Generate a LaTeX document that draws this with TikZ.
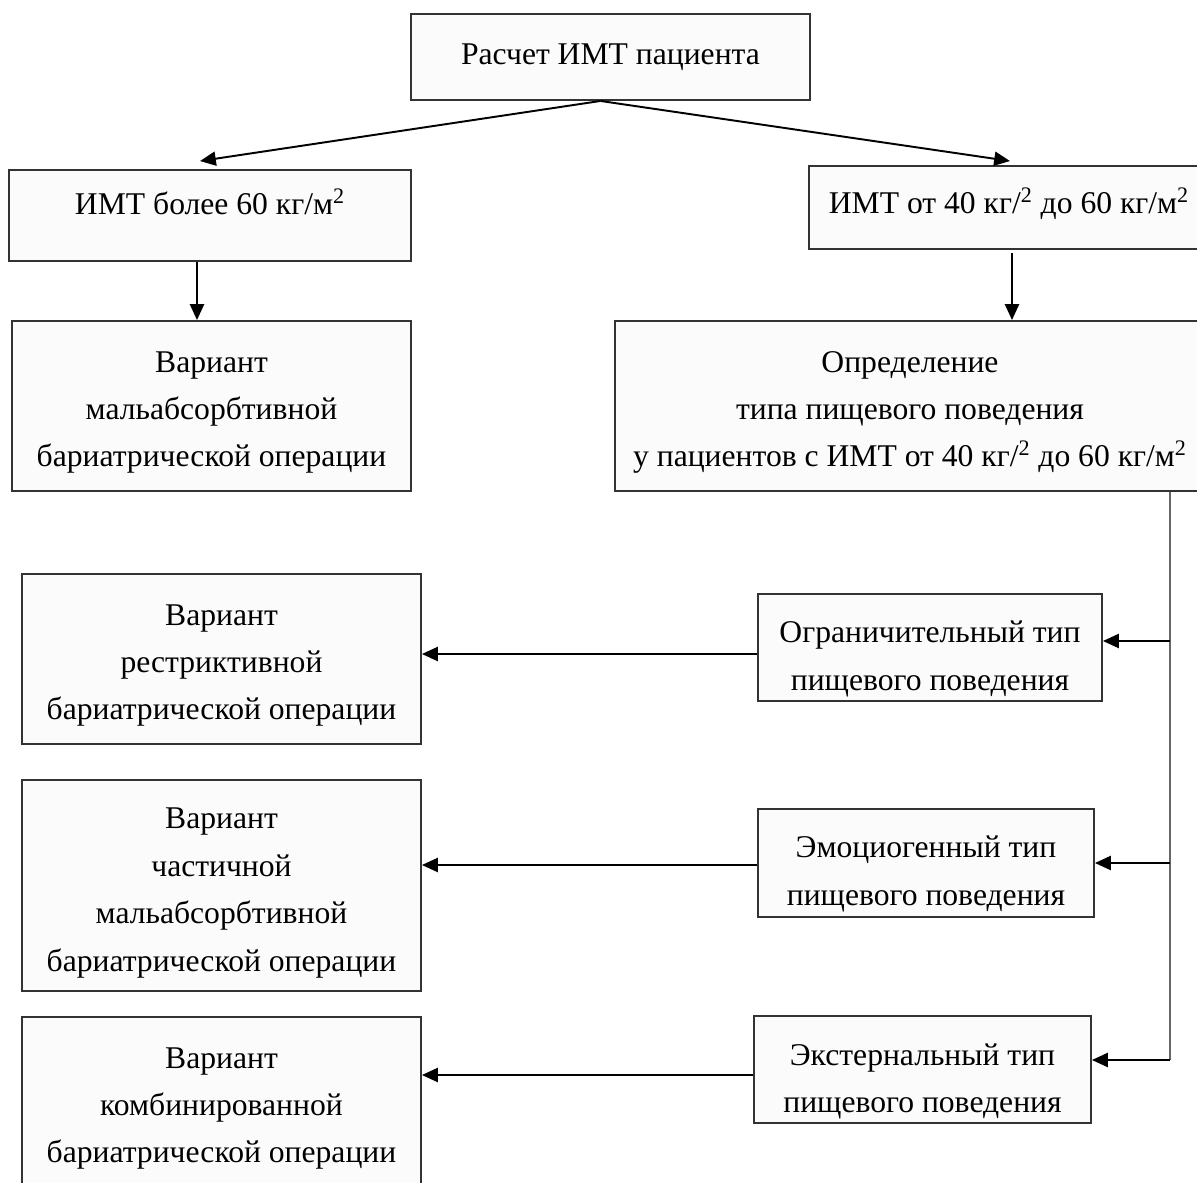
\documentclass[tikz,border=0pt]{standalone}
\usepackage{fontspec}
\setmainfont{Liberation Serif}
\usepackage{tikz}
\usetikzlibrary{positioning,arrows.meta,calc}
% box text, lowered a little inside its box
\newcommand{\boxtxt}[2][0cm]{\raisebox{-#1}[\height][\depth]{\begin{tabular}{@{}c@{}}#2\end{tabular}}}

\begin{document}
\begin{tikzpicture}[x=0.02cm,y=-0.02cm,
  box/.style={draw=black!80,line width=1.1pt,fill=black!1.5,inner sep=0pt,
    font=\fontsize{18}{27}\selectfont},
  sz/.style 2 args={minimum width=#1*0.02cm,minimum height=#2*0.02cm},
  arr/.style={line width=1.1pt,-{Triangle[length=9pt,width=8pt]}}]
  \clip (0,0) rectangle (1197,1183);
  % top level
  \node[box,sz={399}{86}] (bmi) at (610.5,57) {\boxtxt[-0.04cm]{Расчет ИМТ пациента}};
  \node[box,sz={402}{91}] (bmiA) at (210,215.5) {\boxtxt[-0.2cm]{ИМТ более 60 кг/м\textsuperscript{2}}};
  \node[box,sz={400}{83}] (bmiB) at (1009,207.5) {\boxtxt[-0.06cm]{ИМТ от 40 кг/\textsuperscript{2} до 60 кг/м\textsuperscript{2}}};
  \node[box,sz={399}{170}] (malab) at (211.5,406) {\boxtxt[0.08cm]{Вариант\\мальабсорбтивной\\бариатрической операции}};
  \node[box,sz={590}{170}] (eatdef) at (910,406) {\boxtxt[0.08cm]{Определение\\типа пищевого поведения\\у пациентов с ИМТ от 40 кг/\textsuperscript{2} до 60 кг/м\textsuperscript{2}}};
  % eating behaviour types
  \node[box,sz={344}{107}] (restrT) at (930,647.5) {\boxtxt[0.19cm]{Ограничительный тип\\пищевого поведения}};
  \node[box,sz={336}{108}] (emoT) at (926,863) {\boxtxt[0.18cm]{Эмоциогенный тип\\пищевого поведения}};
  \node[box,sz={337}{107}] (extT) at (922.5,1069.5) {\boxtxt[0.2cm]{Экстернальный тип\\пищевого поведения}};
  % operation variants
  \node[box,sz={399}{170}] (restrV) at (221.5,659) {\boxtxt[0.08cm]{Вариант\\рестриктивной\\бариатрической операции}};
  \node[box,sz={399}{211}] (partV) at (221.5,885.5) {\boxtxt[0.1cm]{Вариант\\частичной\\мальабсорбтивной\\бариатрической операции}};
  \node[box,sz={399}{170}] (combV) at (221.5,1102) {\boxtxt[0.08cm]{Вариант\\комбинированной\\бариатрической операции}};
  % arrows
  \draw[arr] ($(bmi.south)+(-10,0)$) -- ($(bmiA.north)+(-10,-8)$);
  \draw[arr] ($(bmi.south)+(-10,0)$) -- ($(bmiB.north)+(1,-4)$);
  \coordinate (dA) at ($(bmiA.south)+(-13,0)$);
  \coordinate (dB) at ($(bmiB.south)+(3,3)$);
  \draw[arr] (dA) -- (dA |- malab.north);
  \draw[arr] (dB) -- (dB |- eatdef.north);
  % trunk and branches
  \coordinate (tr) at (1170,0);
  \draw[black!60,line width=1.1pt] (eatdef.south -| tr) -- ($(extT.east -| tr)+(0,-9.5)$);
  \draw[arr] ($(restrT.east -| tr)+(0,-6.5)$) -- ($(restrT.east)+(0,-6.5)$);
  \draw[arr] (emoT.east -| tr) -- (emoT.east);
  \draw[arr] ($(extT.east -| tr)+(0,-9.5)$) -- ($(extT.east)+(0,-9.5)$);
  \draw[arr] ($(restrT.west)+(0,6.5)$) -- ($(restrT.west -| restrV.east)+(0,6.5)$);
  \draw[arr] ($(emoT.west)+(0,2)$) -- ($(emoT.west -| partV.east)+(0,2)$);
  \draw[arr] ($(extT.west)+(0,5.5)$) -- ($(extT.west -| combV.east)+(0,5.5)$);
\end{tikzpicture}
\end{document}
